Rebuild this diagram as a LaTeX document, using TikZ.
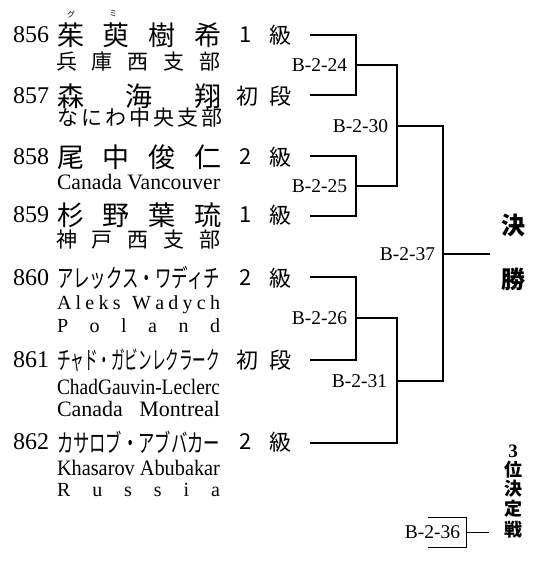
\documentclass[tikz,border=0pt]{standalone}
\usepackage{fontspec}
\setmainfont{Liberation Serif}
\newfontfamily\jp{Noto Sans CJK JP}
\newcommand\fs[1]{\fontsize{#1}{#1}\selectfont}
\newcommand\fitw[2]{\resizebox{#1}{\height}{#2}}
\begin{document}
\begin{tikzpicture}[x=1pt,y=-1pt,
  txt/.style={inner sep=0pt, outer sep=0pt},
  num/.style={txt, anchor=west, font=\fs{24}},
  pname/.style={txt, anchor=west, font=\jp\fs{27}},
  kname/.style={txt, anchor=west, font=\jp\fs{25}},
  psub/.style={txt, anchor=west, font=\jp\fs{21}},
  lat/.style={txt, anchor=west, text depth=0pt, font=\fs{22}},
  lats/.style={txt, anchor=west, text depth=0pt, font=\fs{20}},
  grade/.style={txt, font=\jp\fs{22}},
  ruby/.style={txt, font=\jp\fs{8}},
  mlabel/.style={txt, anchor=east, text depth=0pt, font=\fs{19.5}},
  title/.style={txt, font=\jp\bfseries\fs{24}},
  vtitle/.style={txt, font=\jp\bfseries\fs{18}},
  wire/.style={line width=1.2pt, black},
  thinwire/.style={line width=1pt, black}
]
\useasboundingbox (0,0) rectangle (541,562);

% ---- row 856
\node[num] (n856) at (13,35) {856};
\node[pname] (p856) at (57,35) {\makebox[165pt][s]{茱 萸 樹 希}};
\node[ruby] (r1) at (71,14) {グ};
\node[ruby] (r2) at (113,14) {ミ};
\node[grade] (g856a) at (246,35) {1};
\node[grade] (g856b) at (280,35) {級};
\node[psub] (c856) at (56,62) {\makebox[165pt][s]{兵 庫 西 支 部}};

% ---- row 857
\node[num] (n857) at (13,96) {857};
\node[pname] (p857) at (57,96) {\makebox[165pt][s]{森 海 翔}};
\node[grade] (g857a) at (247,96) {初};
\node[grade] (g857b) at (280,96) {段};
\node[psub] (c857) at (57,118) {\makebox[163pt][s]{な に わ 中 央 支 部}};

% ---- row 858
\node[num] (n858) at (13,157) {858};
\node[pname] (p858) at (57,157) {\makebox[165pt][s]{尾 中 俊 仁}};
\node[grade] (g858a) at (246,157) {2};
\node[grade] (g858b) at (280,157) {級};
\node[lat] (c858) at (57,182) {\fitw{163pt}{Canada Vancouver}};

% ---- row 859
\node[num] (n859) at (13,215) {859};
\node[pname] (p859) at (57,215) {\makebox[165pt][s]{杉 野 葉 琉}};
\node[grade] (g859a) at (246,215) {1};
\node[grade] (g859b) at (280,215) {級};
\node[psub] (c859) at (56,240) {\makebox[165pt][s]{神 戸 西 支 部}};

% ---- row 860
\node[num] (n860) at (13,278) {860};
\node[kname] (p860) at (57,278) {\fitw{163pt}{アレックス・ワディチ}};
\node[grade] (g860a) at (246,278) {2};
\node[grade] (g860b) at (280,278) {級};
\node[lats] (c860a) at (57,303) {\makebox[163pt][s]{A\hfil l\hfil e\hfil k\hfil s\hfil\hspace{3pt}\hfil W\hfil a\hfil d\hfil y\hfil c\hfil h}};
\node[lats] (c860b) at (57,326) {\makebox[163pt][s]{P\hfill o\hfill l\hfill a\hfill n\hfill d}};

% ---- row 861
\node[num] (n861) at (13,360) {861};
\node[kname] (p861) at (57,360) {\fitw{163pt}{チャド・ガビンレクラーク}};
\node[grade] (g861a) at (247,360) {初};
\node[grade] (g861b) at (280,360) {段};
\node[lat] (c861a) at (57,387) {\fitw{163pt}{ChadGauvin-Leclerc}};
\node[lat] (c861b) at (57,409) {\makebox[163pt][s]{Canada Montreal}};

% ---- row 862
\node[num] (n862) at (13,442) {862};
\node[kname] (p862) at (57,442) {\fitw{163pt}{カサロブ・アブバカー}};
\node[grade] (g862a) at (246,442) {2};
\node[grade] (g862b) at (280,442) {級};
\node[lat] (c862a) at (57,468) {\fitw{163pt}{Khasarov Abubakar}};
\node[lats] (c862b) at (57,490) {\makebox[163pt][s]{R\hfill u\hfill s\hfill s\hfill i\hfill a}};

% ---- bracket coordinates
\coordinate (e1) at (310,35);
\coordinate (e2) at (310,95);
\coordinate (e3) at (310,156);
\coordinate (e4) at (310,216);
\coordinate (e5) at (310,277);
\coordinate (e6) at (310,360);
\coordinate (e7) at (310,443);
\coordinate (j24) at (356,65);
\coordinate (j25) at (356,186);
\coordinate (j26) at (356,318);
\coordinate (j30) at (397,126);
\coordinate (j31) at (397,381);
\coordinate (j37) at (443,254);
\coordinate (fin) at (490,254);

\draw[wire] (e1) -| (j24) |- (e2);
\draw[wire] (e3) -| (j25) |- (e4);
\draw[wire] (e5) -| (j26) |- (e6);
\draw[wire] (j24) -| (j30) |- (j25);
\draw[wire] (j26) -| (j31) |- (e7);
\draw[wire] (j30) -| (j37) |- (j31);
\draw[wire] (j37) -- (fin);

% ---- match labels
\node[mlabel] (m24) at (347,65) {B-2-24};
\node[mlabel] (m25) at (347,186) {B-2-25};
\node[mlabel] (m26) at (347,318) {B-2-26};
\node[mlabel] (m30) at (388,126) {B-2-30};
\node[mlabel] (m31) at (387,381) {B-2-31};
\node[mlabel] (m37) at (435,254) {B-2-37};

% ---- final
\node[title] (t1) at (513,225) {決};
\node[title] (t2) at (513,279) {勝};

% ---- third place
\node[txt, font=\bfseries\fs{19}] (v0) at (513,451) {3};
\node[vtitle] (v1) at (513,470) {位};
\node[vtitle] (v2) at (513,489) {決};
\node[vtitle] (v3) at (513,509) {定};
\node[vtitle] (v4) at (513,530) {戦};

\node[mlabel] (m36) at (460,532) {B-2-36};
\coordinate (b1) at (428,517);
\coordinate (b2) at (466,517);
\coordinate (b3) at (466,547);
\coordinate (b4) at (428,547);
\coordinate (b5) at (466,532);
\coordinate (b6) at (489,532);
\draw[thinwire] (b1) -- (b2) -- (b3) -- (b4);
\draw[thinwire] (b5) -- (b6);
\end{tikzpicture}
\end{document}
